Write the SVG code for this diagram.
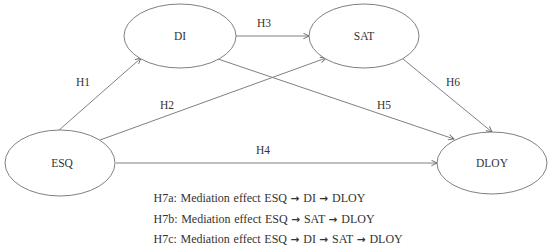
<svg xmlns="http://www.w3.org/2000/svg" width="550" height="251" viewBox="0 0 550 251">
<defs>
<style>
.node ellipse{fill:#fff;stroke:#808080;stroke-width:1}
.lbl{font-family:'Liberation Serif',serif;font-size:11.5px;fill:#333;text-anchor:middle}
.edge{stroke:#808080;stroke-width:1;fill:none;marker-end:url(#arr)}
.note{font-family:'Liberation Serif',serif;font-size:12px;fill:#333;word-spacing:0.7px}
.ar{font-family:'DejaVu Sans',sans-serif;font-size:10.5px;font-weight:bold}
</style>
<marker id="arr" viewBox="0 0 10 10" refX="9" refY="5" markerWidth="7" markerHeight="7" orient="auto" markerUnits="userSpaceOnUse">
<path d="M1,1 L9,5 L1,9" fill="none" stroke="#666" stroke-width="1.3"/>
</marker>
</defs>
<rect width="550" height="251" fill="#fff"/>
<g id="connectors">
<line class="edge" x1="58" y1="131" x2="141" y2="58"/>
<line class="edge" x1="100" y1="140" x2="326" y2="58"/>
<line class="edge" x1="236" y1="36" x2="309" y2="36"/>
<line class="edge" x1="116" y1="163" x2="437" y2="163"/>
<line class="edge" x1="218" y1="59" x2="454" y2="139"/>
<line class="edge" x1="403" y1="59" x2="492" y2="132"/>
<text class="lbl" x="83" y="86">H1</text>
<text class="lbl" x="167" y="109">H2</text>
<text class="lbl" x="264" y="27">H3</text>
<text class="lbl" x="263" y="154">H4</text>
<text class="lbl" x="384" y="109">H5</text>
<text class="lbl" x="453" y="86">H6</text>
</g>
<g id="DI" class="node"><ellipse cx="180" cy="36" rx="56" ry="32"/><text class="lbl" x="180" y="40">DI</text></g>
<g id="SAT" class="node"><ellipse cx="364" cy="36" rx="55" ry="32"/><text class="lbl" x="364" y="40">SAT</text></g>
<g id="ESQ" class="node"><ellipse cx="60" cy="163" rx="55" ry="33"/><text class="lbl" x="62" y="167">ESQ</text></g>
<g id="DLOY" class="node"><ellipse cx="492" cy="163" rx="55" ry="31"/><text class="lbl" x="492" y="167">DLOY</text></g>
<g id="notes">
<text class="note" x="153.5" y="202">H7a: Mediation effect ESQ <tspan class="ar">→</tspan> DI <tspan class="ar">→</tspan> DLOY</text>
<text class="note" x="153.5" y="222.5">H7b: Mediation effect ESQ <tspan class="ar">→</tspan> SAT <tspan class="ar">→</tspan> DLOY</text>
<text class="note" x="153.5" y="243">H7c: Mediation effect ESQ <tspan class="ar">→</tspan> DI <tspan class="ar">→</tspan> SAT <tspan class="ar">→</tspan> DLOY</text>
</g>
</svg>
